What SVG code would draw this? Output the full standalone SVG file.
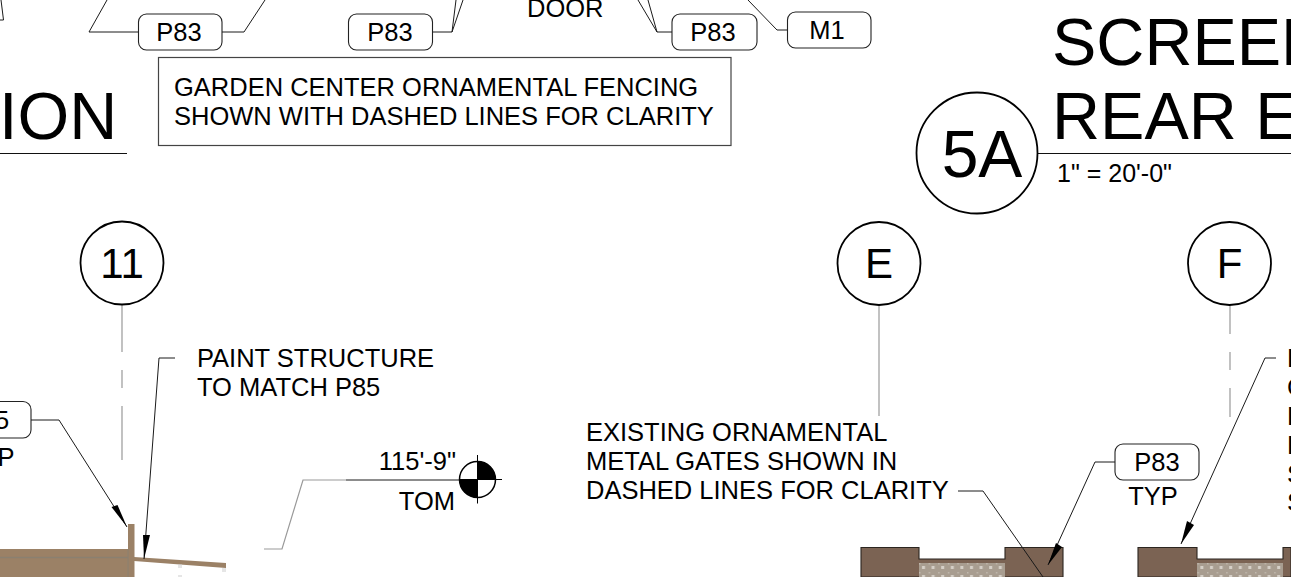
<svg xmlns="http://www.w3.org/2000/svg" width="1291" height="577" viewBox="0 0 1291 577">
<style>
text{font-family:"Liberation Sans",Arial,sans-serif;fill:#000}
.n{font-size:25.500px}
.m{text-anchor:middle}
.c{font-size:42px;text-anchor:middle}
.t{font-size:66.500px}
.l{fill:none;stroke:#1a1a1a;stroke-width:1}
.g{fill:none;stroke:#999;stroke-width:1.200}
.tag{fill:#fff;stroke:#222;stroke-width:1.100}
.ci{fill:#fff;stroke:#000;stroke-width:1.800}
.a{fill:#000;stroke:none}
.br{fill:#9b8166}
.dk{fill:#7b6353;stroke:#2b2520;stroke-width:1.100}
</style>
<defs>
<pattern id="screen" x="919" y="563" width="9.600" height="9" patternUnits="userSpaceOnUse">
<rect width="9.600" height="9" fill="#a89d90"/>
<rect x="3" y="3" width="3" height="3" fill="#d6d0c8"/>
<rect x="0" y="0" width="1.500" height="1.500" fill="#c0b8ad"/>
</pattern>
</defs>
<g id="surfaces">
<rect class="br" x="0" y="549" width="134" height="28"/>
<rect class="br" x="128" y="524" width="6.500" height="53"/>
<path class="br" d="M134 557L226 563V568L134 561Z"/>
<path d="M0 557.500H128" stroke="#8a8070" stroke-width="1.500"/>
<path d="M128 549V577" stroke="#8a8070" stroke-width="1"/>
<path d="M179 564v4M181 564v4M179 575v2M181 575v2M223 568v4M225 568v4" stroke="#ccc" stroke-width="1"/>
<path class="dk" d="M861 577V547.500H919V559H1005V547.500H1063V577Z"/>
<path class="dk" d="M1138 577V547.500H1197V559H1283V547.500H1291V577Z"/>
<rect x="919" y="563" width="86" height="14" fill="url(#screen)"/>
<rect x="1197" y="563" width="86" height="14" fill="url(#screen)"/>
</g>
<g id="connectors">
<path class="l" d="M0 20H3.500L1 0"/>
<path class="l" d="M107 0L89 32H139"/>
<path class="l" d="M222 32H244L265 0"/>
<path class="l" d="M433 32H452L463 0M452 32L456 0"/>
<path class="l" d="M638 0L657 32H672M648 0L657 32"/>
<path class="l" d="M748 0L777 30H787"/>
<path class="g" d="M122 305V352M122 370V388M122 406V460"/>
<path class="g" d="M879 306V416"/>
<path class="g" d="M1230 306V334M1230 352V370M1230 388V417"/>
<path class="l" d="M31 420H59L127 527"/>
<path class="a" d="M127 527L111.500 507L117.500 505Z"/>
<path class="l" d="M175 358H159L144 559"/>
<path class="a" d="M144 559L143 535L150 535Z"/>
<path class="l" d="M958 491H983L1043 577"/>
<path class="l" d="M1115 462H1095L1048 565"/>
<path class="a" d="M1048 565L1056 543L1062 547Z"/>
<path class="l" d="M1276 358H1265L1181 544"/>
<path class="a" d="M1181 544L1187 521L1194 525Z"/>
<path class="g" d="M264 549H282L303 480H346"/>
<path class="l" d="M346 480H459"/>
</g>
<g id="callouts">
<g id="tag1"><rect class="tag" x="138.500" y="14" width="83.500" height="36" rx="8"/><text class="n m" x="179" y="40.500">P83</text></g>
<g id="tag2"><rect class="tag" x="348.500" y="14" width="84" height="36" rx="8"/><text class="n m" x="390" y="40.500">P83</text></g>
<g id="tag3"><rect class="tag" x="672" y="14" width="85" height="36" rx="8"/><text class="n m" x="713" y="40.500">P83</text></g>
<g id="tag4"><rect class="tag" x="787.500" y="12" width="83.500" height="36" rx="8"/><text class="n m" x="827" y="38.500">M1</text></g>
<g id="tag5"><rect class="tag" x="-40" y="401.500" width="71" height="36.500" rx="8"/><text class="n" x="-5" y="429">5</text><text class="n" x="-2.500" y="466">P</text></g>
<g id="tag6"><rect class="tag" x="1115" y="444" width="84" height="36" rx="8"/><text class="n m" x="1157" y="470.500">P83</text><text class="n m" x="1153" y="505">TYP</text></g>
<g id="door"><text class="n" x="527" y="16.500">DOOR</text></g>
<g id="note"><rect x="158.500" y="57.500" width="572.500" height="88" fill="#fff" stroke="#444" stroke-width="1.200"/><text class="n" x="174" y="96">GARDEN CENTER ORNAMENTAL FENCING</text><text class="n" x="174" y="125">SHOWN WITH DASHED LINES FOR CLARITY</text></g>
<g id="title-left"><text class="t" x="-1" y="139">ION</text><path d="M0 153.500H127" stroke="#111"/></g>
<g id="title-right"><text class="t" x="1052" y="65">SCREEN</text><text class="t" x="1052" y="139">REAR E</text><path d="M1038 153.500H1291" stroke="#111"/><text x="1057" y="182" font-size="25">1" = 20'-0"</text></g>
<g id="b5A"><circle class="ci" cx="977" cy="153" r="60.500"/><text x="982" y="177" font-size="66" text-anchor="middle">5A</text></g>
<g id="b11"><circle class="ci" cx="122" cy="263" r="41.500"/><text class="c" x="122" y="278">11</text></g>
<g id="bE"><circle class="ci" cx="879" cy="263.500" r="41.500"/><text class="c" x="879" y="278">E</text></g>
<g id="bF"><circle class="ci" cx="1229.500" cy="263.500" r="41.500"/><text class="c" x="1229.500" y="278">F</text></g>
<g id="paint"><text class="n" x="197" y="366.500">PAINT STRUCTURE</text><text class="n" x="197" y="395.500">TO MATCH P85</text></g>
<g id="gates"><text class="n" x="586" y="441">EXISTING ORNAMENTAL</text><text class="n" x="586" y="470">METAL GATES SHOWN IN</text><text class="n" x="586" y="499">DASHED LINES FOR CLARITY</text></g>
<g id="tom"><text class="n" x="456" y="469.500" text-anchor="end">115'-9"</text><text class="n" x="455" y="510" text-anchor="end">TOM</text>
<circle cx="477.500" cy="479.500" r="18" fill="#fff" stroke="#000" stroke-width="1.500"/><path d="M477.500 479.500V461.500A18 18 0 0 1 495.500 479.500ZM477.500 479.500V497.500A18 18 0 0 1 459.500 479.500Z" fill="#000"/><path d="M477.500 455V503.500M459 479.500H502" stroke="#000"/></g>
<g id="rightnote"><text class="n" x="1287" y="367">P</text><text class="n" x="1287" y="396">C</text><text class="n" x="1287" y="425">P</text><text class="n" x="1287" y="454">P</text><text class="n" x="1287" y="483">S</text><text class="n" x="1287" y="511">S</text></g>
</g>
</svg>
